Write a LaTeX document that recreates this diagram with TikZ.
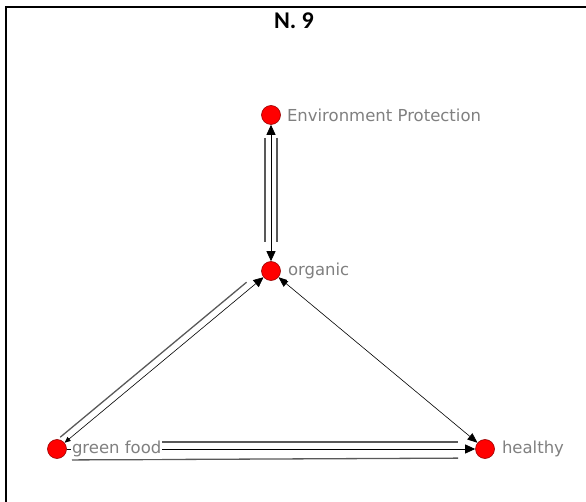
\documentclass[tikz,border=0pt]{standalone}
\usepackage{fontspec}
\setmainfont{DejaVu Sans}
\newfontfamily\titlefont{Carlito Bold}
\usetikzlibrary{positioning,arrows.meta,calc}
\pgfdeclarelayer{bg}
\pgfsetlayers{bg,main}
\tikzset{
  vtx/.style={circle,fill=red,draw=red!60!black,line width=0.6pt,minimum size=19pt,inner sep=0pt},
  lbl/.style={text=black!50,font=\fontsize{16.5}{18}\selectfont,fill=white,inner xsep=1pt,inner ysep=2pt},
  par/.style={draw=black!65,line width=1.3pt},
  arr/.style={draw=black,line width=0.8pt},
}
\begin{document}
\begin{tikzpicture}[x=1pt,y=-1pt]
    \useasboundingbox (0,0) rectangle (586,502);
    \draw[line width=2.5pt] (586,7) -- (6,7) -- (6,502);
    \node[font=\titlefont\fontsize{24}{26}\selectfont] (title) at (294,21) {N. 9};
    % vertices
    \node[vtx] (env) at (271,115) {};
    \node[vtx] (org) at (271,271) {};
    \node[vtx] (gf) at (57,449) {};
    \node[vtx] (hea) at (485,449) {};
    \begin{pgfonlayer}{bg}
    % environment -- organic
    \draw[par,shorten <=23pt,shorten >=29pt] ([xshift=-6pt]env.center) -- ([xshift=-6pt]org.center);
    \draw[par,shorten <=23pt,shorten >=29pt] ([xshift=6pt]env.center) -- ([xshift=6pt]org.center);
    \draw[arr,{Triangle[length=10pt,width=9pt]}-{Triangle[length=10pt,width=9pt]}] (env) -- (org);
    % green food -- organic
    \draw[par,shorten <=10pt,shorten >=26pt] ($(gf)!7pt!90:(org)$) -- ($(org)!7pt!-90:(gf)$);
    \draw[arr,line width=0.6pt,{Triangle[length=6pt,width=5pt]}-{Triangle[length=10pt,width=9pt]}] (gf) -- (org);
    % green food -- healthy
    \draw[par,shorten <=15pt,shorten >=27pt] ([yshift=7pt]gf.center) -- ([yshift=7pt]hea.center);
    \draw[par,shorten <=15pt,shorten >=27pt] ([yshift=-11pt]gf.center) -- ([yshift=-9pt]hea.center);
    \draw[arr,-{Triangle[length=10pt,width=9pt]}] (gf) -- (hea);
    % organic -- healthy
    \draw[arr,line width=0.6pt,{Triangle[length=10pt,width=8pt]}-{Triangle[length=10pt,width=8pt]}] (org) -- (hea);
    \end{pgfonlayer}
    % labels
    \node[lbl,right=5pt of env] (envlbl) {Environment Protection};
    \node[lbl,right=6pt of org] (orglbl) {organic};
    \node[lbl,right=4pt of gf] (gflbl) {green food};
    \node[lbl,right=6pt of hea] (healbl) {healthy};
\end{tikzpicture}
\end{document}
